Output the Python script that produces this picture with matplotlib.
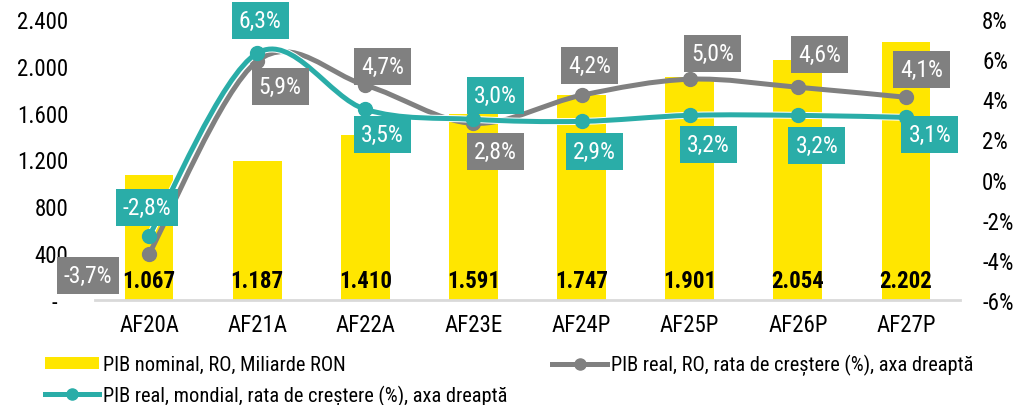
import numpy as np
import matplotlib
matplotlib.use('Agg')
import matplotlib.pyplot as plt
from matplotlib.path import Path
from matplotlib.patches import PathPatch, Patch
from matplotlib.lines import Line2D
import matplotlib.transforms as mtransforms
import matplotlib.patheffects as pe
from matplotlib import font_manager

names = {f.name for f in font_manager.fontManager.ttflist}
fam = [f for f in ['Roboto Condensed', 'PT Sans Narrow', 'Liberation Sans', 'DejaVu Sans'] if f in names]
plt.rcParams['font.family'] = fam

# ---------------- data ----------------
categories = ['AF20A', 'AF21A', 'AF22A', 'AF23E', 'AF24P', 'AF25P', 'AF26P', 'AF27P']
pib_nominal = [1067, 1187, 1410, 1591, 1747, 1901, 2054, 2202]
pib_real_ro = [-3.7, 5.9, 4.7, 2.8, 4.2, 5.0, 4.6, 4.1]
pib_real_mondial = [-2.8, 6.3, 3.5, 3.0, 2.9, 3.2, 3.2, 3.1]
left_ticks = [0, 400, 800, 1200, 1600, 2000, 2400]
left_tick_labels = ['-  ', '400', '800', '1.200', '1.600', '2.000', '2.400']
right_ticks = [-6, -4, -2, 0, 2, 4, 6, 8]
right_tick_labels = ['-6%', '-4%', '-2%', '0%', '2%', '4%', '6%', '8%']
legend_labels = ['PIB nominal, RO, Miliarde RON',
                 'PIB real, mondial, rata de creștere (%), axa dreaptă',
                 'PIB real, RO, rata de creștere (%), axa dreaptă']

# label placement offsets (pixels) - presentation only
ro_offsets = [(-61, -22), (23, -25), (17, 19), (22, -28), (8, 30), (23, 26), (22, 33), (16, 28)]
mo_offsets = [(-2, 28), (3, 33), (17, -25), (22, 24), (13, -30), (19, -29), (19, -30), (24, -17)]

YELLOW = '#FFE600'
GREY = '#808080'
TEAL = '#2AADA8'


def fmt_pct(v):
    return f'{v:.1f}%'.replace('.', ',')


def fmt_thousands(v):
    return f'{v:,}'.replace(',', '.')


def smooth_path(x, y):
    pts = np.column_stack([x, y]).astype(float)
    n = len(pts)
    verts = [pts[0]]
    codes = [Path.MOVETO]
    for i in range(n - 1):
        p0 = pts[i - 1] if i > 0 else pts[i]
        p1 = pts[i]
        p2 = pts[i + 1]
        p3 = pts[i + 2] if i + 2 < n else pts[i + 1]
        c1 = p1 + (p2 - p0) / 6.0
        c2 = p2 - (p3 - p1) / 6.0
        verts += [c1, c2, p2]
        codes += [Path.CURVE4] * 3
    return Path(verts, codes)


fig = plt.figure(figsize=(10.36, 4.06), dpi=100)
ax = fig.add_axes([95 / 1036, 1 - 301 / 406, 865 / 1036, 281 / 406])
ax2 = ax.twinx()

x = np.arange(len(categories))
ax.bar(x, pib_nominal, width=0.45, color=YELLOW, zorder=2)
ax.set_xlim(-0.5, len(categories) - 0.5)
ax.set_ylim(0, 2400)
ax.set_yticks(left_ticks)
ax.set_yticklabels(left_tick_labels)
ax.set_xticks(x)
ax.set_xticklabels(categories)
ax.tick_params(axis='y', length=0, pad=19, labelsize=16.5)
ax.tick_params(axis='x', length=0, pad=9, labelsize=16.5)
for s in ['top', 'left', 'right']:
    ax.spines[s].set_visible(False)
ax.spines['bottom'].set_color('#D9D9D9')
ax.spines['bottom'].set_linewidth(2)

# bar value labels
trans = mtransforms.blended_transform_factory(ax.transData, ax.transAxes)
for xi, v in zip(x, pib_nominal):
    ax.text(xi, 0.068, fmt_thousands(v), transform=trans, ha='center', va='center',
            fontsize=16.5, fontweight='bold', color='black', zorder=3)

ax2.set_ylim(-6, 8)
ax2.set_yticks(right_ticks)
ax2.set_yticklabels(right_tick_labels)
ax2.tick_params(axis='y', length=0, pad=16, labelsize=16.5)
for s in ax2.spines.values():
    s.set_visible(False)

# smoothed lines
p_ro = PathPatch(smooth_path(x, pib_real_ro), fill=False, edgecolor=GREY, lw=3.6,
                 capstyle='round', joinstyle='round', zorder=3)
ax2.add_patch(p_ro)
ax2.plot(x, pib_real_ro, 'o', color=GREY, ms=10, zorder=3.1)
p_mo = PathPatch(smooth_path(x, pib_real_mondial), fill=False, edgecolor=TEAL, lw=3.6,
                 capstyle='round', joinstyle='round', zorder=4,
                 path_effects=[pe.Stroke(linewidth=5, foreground='white'), pe.Normal()])
ax2.add_patch(p_mo)
ax2.plot(x, pib_real_mondial, 'o', color=TEAL, ms=10, zorder=4.1)

# data labels
for xi, v, off in zip(x, pib_real_ro, ro_offsets):
    ax2.annotate(fmt_pct(v), (xi, v), xytext=off, textcoords='offset pixels',
                 ha='center', va='center', fontsize=17, color='white', zorder=6,
                 bbox=dict(boxstyle='square,pad=0.3', fc=GREY, ec='none'))
for xi, v, off in zip(x, pib_real_mondial, mo_offsets):
    ax2.annotate(fmt_pct(v), (xi, v), xytext=off, textcoords='offset pixels',
                 ha='center', va='center', fontsize=17, color='white', zorder=6,
                 bbox=dict(boxstyle='square,pad=0.3', fc=TEAL, ec='none'))

# legend
handles = [Patch(facecolor=YELLOW, edgecolor='none'),
           Line2D([], [], color=TEAL, lw=3.6, marker='o', ms=8),
           Line2D([], [], color=GREY, lw=3.6, marker='o', ms=8)]
fig.legend(handles, legend_labels, ncol=2, loc='upper left',
           bbox_to_anchor=(45 / 1036, 1 - 355 / 406), frameon=False,
           fontsize=14.7, handlelength=2.65, handleheight=0.5, handletextpad=0.2,
           columnspacing=2.2, borderpad=0, borderaxespad=0, labelspacing=0.5)

fig.savefig('out.png', dpi=100)
